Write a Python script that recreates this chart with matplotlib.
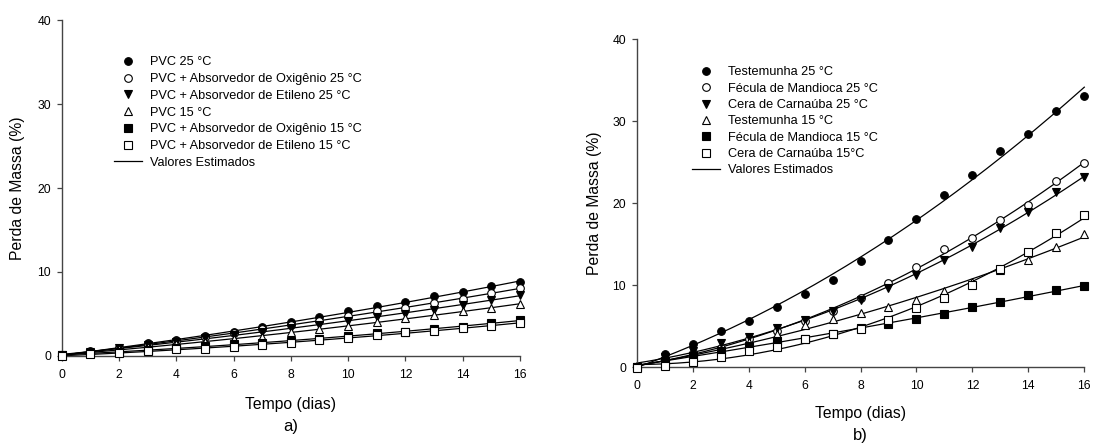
import numpy as np
import matplotlib
matplotlib.use("Agg")
import matplotlib.pyplot as plt
from matplotlib.lines import Line2D

plt.rcParams['font.family'] = ['Liberation Sans', 'DejaVu Sans']

days = list(range(17))

# Panel a)
labels_a = ["PVC 25 °C", "PVC + Absorvedor de Oxigênio 25 °C", "PVC + Absorvedor de Etileno 25 °C",
            "PVC 15 °C", "PVC + Absorvedor de Oxigênio 15 °C", "PVC + Absorvedor de Etileno 15 °C"]
pvc25 = [0.1, 0.6, 1.0, 1.5, 1.9, 2.4, 2.9, 3.4, 4.0, 4.6, 5.3, 5.9, 6.4, 7.1, 7.6, 8.3, 8.8]
pvc_ao25 = [0.1, 0.5, 0.9, 1.4, 1.8, 2.3, 2.7, 3.2, 3.7, 4.2, 4.8, 5.3, 5.7, 6.3, 6.8, 7.5, 8.1]
pvc_ae25 = [0.1, 0.5, 0.9, 1.3, 1.7, 2.1, 2.5, 2.9, 3.3, 3.7, 4.2, 4.7, 5.0, 5.5, 6.1, 6.7, 7.3]
pvc15 = [0.1, 0.4, 0.8, 1.1, 1.4, 1.7, 2.0, 2.3, 2.8, 3.2, 3.6, 4.0, 4.5, 4.9, 5.3, 5.7, 6.2]
pvc_ao15 = [0.1, 0.3, 0.5, 0.7, 0.9, 1.2, 1.4, 1.6, 1.8, 2.0, 2.4, 2.7, 2.9, 3.2, 3.5, 3.9, 4.3]
pvc_ae15 = [0.0, 0.2, 0.4, 0.6, 0.8, 0.8, 1.1, 1.3, 1.6, 1.9, 2.2, 2.5, 2.8, 3.0, 3.3, 3.6, 3.9]
series_a = [pvc25, pvc_ao25, pvc_ae25, pvc15, pvc_ao15, pvc_ae15]

# Panel b)
labels_b = ["Testemunha 25 °C", "Fécula de Mandioca 25 °C", "Cera de Carnaúba 25 °C",
            "Testemunha 15 °C", "Fécula de Mandioca 15 °C", "Cera de Carnaúba 15°C"]
test25 = [0.0, 1.6, 2.8, 4.4, 5.7, 7.4, 8.9, 10.6, 12.9, 15.5, 18.1, 21.0, 23.4, 26.4, 28.4, 31.2, 33.1]
fec25 = [0.0, 1.0, 1.8, 2.4, 3.5, 4.4, 5.7, 6.9, 8.5, 10.3, 12.2, 14.4, 15.7, 18.0, 19.8, 22.7, 24.9]
cera25 = [0.0, 1.2, 2.0, 3.0, 3.7, 4.8, 5.8, 6.8, 8.2, 9.7, 11.3, 13.1, 14.7, 17.0, 18.9, 21.3, 23.2]
test15 = [0.0, 0.8, 1.3, 2.0, 3.1, 4.0, 5.1, 5.9, 6.6, 7.3, 8.2, 9.3, 10.4, 11.8, 13.1, 14.7, 16.3]
fec15 = [0.0, 0.8, 1.4, 2.0, 2.6, 3.2, 3.5, 4.1, 4.8, 5.3, 5.9, 6.5, 7.3, 7.9, 8.8, 9.4, 9.9]
cera15 = [-0.1, 0.2, 0.7, 1.2, 2.0, 2.5, 3.4, 4.0, 4.7, 5.8, 7.2, 8.5, 10.0, 12.0, 14.1, 16.4, 18.5]
series_b = [test25, fec25, cera25, test15, fec15, cera15]

x_ticks = [0, 2, 4, 6, 8, 10, 12, 14, 16]
y_ticks = [0, 10, 20, 30, 40]

markers = [('o', 'black'), ('o', 'white'), ('v', 'black'), ('^', 'white'), ('s', 'black'), ('s', 'white')]

W, H = 1093, 448
fig = plt.figure(figsize=(W / 100, H / 100), dpi=100)


def px_axes(l, r, t, b):
    return fig.add_axes([l / W, 1 - b / H, (r - l) / W, (b - t) / H])


def draw_panel(ax, series, labels, leg_anchor, leg_spacing, ylabel_x, xlabel_y, tag, tag_y):
    xs = np.array(days)
    xf = np.linspace(0, 16, 200)
    for ys, (m, fc) in zip(series, markers):
        coef = np.polyfit(xs, ys, 2)
        ax.plot(xf, np.polyval(coef, xf), color='black', lw=0.9, zorder=2, clip_on=False)
        ax.plot(xs, ys, linestyle='none', marker=m, markersize=5.5, markerfacecolor=fc,
                markeredgecolor='black', markeredgewidth=0.8, zorder=3, clip_on=False)
    ax.set_xlim(0, 16)
    ax.set_ylim(0, 40)
    ax.set_xticks(x_ticks)
    ax.set_yticks(y_ticks)
    for s in ['top', 'right']:
        ax.spines[s].set_visible(False)
    for s in ['left', 'bottom']:
        ax.spines[s].set_color('#444444')
        ax.spines[s].set_linewidth(1.0)
    ax.tick_params(direction='out', length=3.6, width=0.9, color='#444444', labelsize=8.7)
    ax.tick_params(axis='x', pad=5.5)
    ax.tick_params(axis='y', pad=4.0)
    ax.set_facecolor('none')

    handles = [Line2D([], [], linestyle='none', marker=m, markersize=5.5, markerfacecolor=fc,
                      markeredgecolor='black', markeredgewidth=0.8) for m, fc in markers]
    handles.append(Line2D([], [], color='black', lw=0.9))
    ax.legend(handles, labels + ["Valores Estimados"], loc='upper left',
              bbox_to_anchor=(leg_anchor[0] / W, 1 - leg_anchor[1] / H), bbox_transform=fig.transFigure,
              frameon=False, fontsize=9.2, handlelength=2.23, handletextpad=0.6,
              labelspacing=leg_spacing, borderpad=0, borderaxespad=0, numpoints=1)

    bb = ax.get_position()
    cx = (bb.x0 + bb.x1) / 2
    cy = (bb.y0 + bb.y1) / 2
    fig.text(ylabel_x / W, cy, "Perda de Massa (%)", rotation=90, ha='center', va='center', fontsize=11.3)
    fig.text(cx, 1 - xlabel_y / H, "Tempo (dias)", ha='center', va='center', fontsize=11.3)
    fig.text(cx, 1 - tag_y / H, tag, ha='center', va='center', fontsize=12)


ax1 = px_axes(61.7, 520.0, 20.0, 356.0)
draw_panel(ax1, series_a, labels_a, (114, 56.4), 0.37, 17.5, 404, "a)", 426)

ax2 = px_axes(636.7, 1084.3, 39.0, 367.3)
draw_panel(ax2, series_b, labels_b, (692, 66.4), 0.34, 594, 413, "b)", 435)

fig.savefig("out.png", dpi=100)
